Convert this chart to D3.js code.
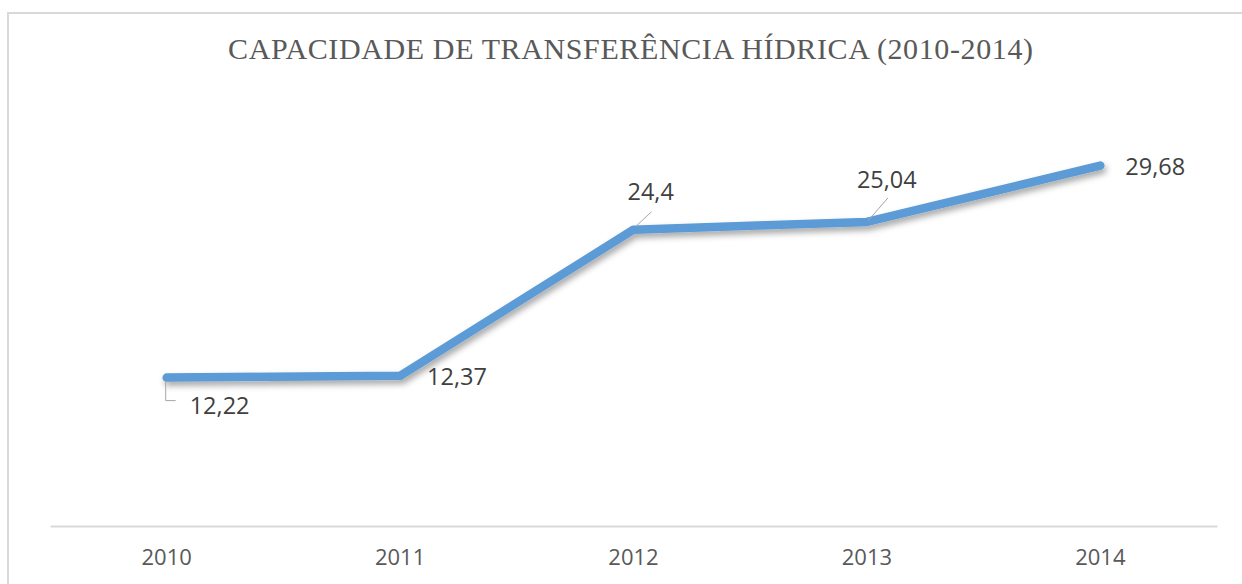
<!DOCTYPE html>
<html><head><meta charset="utf-8">
<script src="https://cdn.jsdelivr.net/npm/d3@7"></script>
<style>
html,body{margin:0;padding:0;background:#fff;}
svg{display:block;}
</style></head>
<body>
<script>
const years = ["2010","2011","2012","2013","2014"];
const values = [12.22, 12.37, 24.4, 25.04, 29.68];
const valueLabels = ["12,22","12,37","24,4","25,04","29,68"];
const title = "CAPACIDADE DE TRANSFERÊNCIA HÍDRICA (2010-2014)";

const W = 1242, H = 584;
const svg = d3.select("body").append("svg").attr("width", W).attr("height", H);

// chart border
svg.append("rect").attr("x", 8).attr("y", 13).attr("width", 1240).attr("height", 600)
  .attr("fill", "#fff").attr("stroke", "#d9d9d9").attr("stroke-width", 2);

const defs = svg.append("defs");
const f = defs.append("filter").attr("id", "shadow").attr("x", "-5%").attr("y", "-20%").attr("width", "110%").attr("height", "140%");
f.append("feDropShadow").attr("dx", 2).attr("dy", 4).attr("stdDeviation", 3)
  .attr("flood-color", "#000").attr("flood-opacity", 0.35);

const x = d3.scaleBand().domain(years).range([50, 1217]);
const y = d3.scaleLinear().domain([0, 35]).range([526, 101]);

svg.append("text").attr("x", 228).attr("y", 59)
  .attr("font-family", "Liberation Serif, Times New Roman, serif").attr("font-size", 30)
  .attr("textLength", 805).attr("lengthAdjust", "spacing")
  .attr("fill", "#595959").text(title);

// x axis
const xAxis = svg.append("g").attr("transform", "translate(0,526)")
  .call(d3.axisBottom(x).tickSize(0).tickPadding(0));
xAxis.select(".domain").attr("stroke", "#d9d9d9").attr("stroke-width", 2);
xAxis.selectAll("text").attr("font-family", "Open Sans, sans-serif").attr("font-size", 22)
  .attr("fill", "#595959").attr("dy", null).attr("y", 39);

const cx = d => x(d) + x.bandwidth() / 2;
const pts = years.map((yr, i) => [cx(yr), y(values[i])]);

svg.append("path").datum(pts)
  .attr("d", d3.line())
  .attr("fill", "none").attr("stroke", "#5b9bd5").attr("stroke-width", 8.5)
  .attr("stroke-linecap", "round").attr("stroke-linejoin", "round")
  .attr("filter", "url(#shadow)");

// leader lines
const leader = svg.append("g").attr("stroke", "#a6a6a6").attr("stroke-width", 1).attr("fill", "none");
leader.append("path").attr("d", `M${pts[0][0]-1},${pts[0][1]+4} V${pts[0][1]+23} H${pts[0][0]+9}`);
leader.append("line").attr("x1", pts[2][0]+2).attr("y1", pts[2][1]-3).attr("x2", pts[2][0]+18).attr("y2", pts[2][1]-18);
leader.append("line").attr("x1", pts[3][0]+1).attr("y1", pts[3][1]-1).attr("x2", pts[3][0]+21).attr("y2", pts[3][1]-24);

// data labels
const offsets = [[23, 36], [27, 9], [-6, -30], [-10, -34], [25, 9]];
svg.append("g").selectAll("text").data(valueLabels).join("text")
  .attr("x", (d, i) => pts[i][0] + offsets[i][0])
  .attr("y", (d, i) => pts[i][1] + offsets[i][1])
  .attr("font-family", "Open Sans, sans-serif").attr("font-size", 23.5)
  .attr("fill", "#404040").text(d => d);
</script>
</body></html>
